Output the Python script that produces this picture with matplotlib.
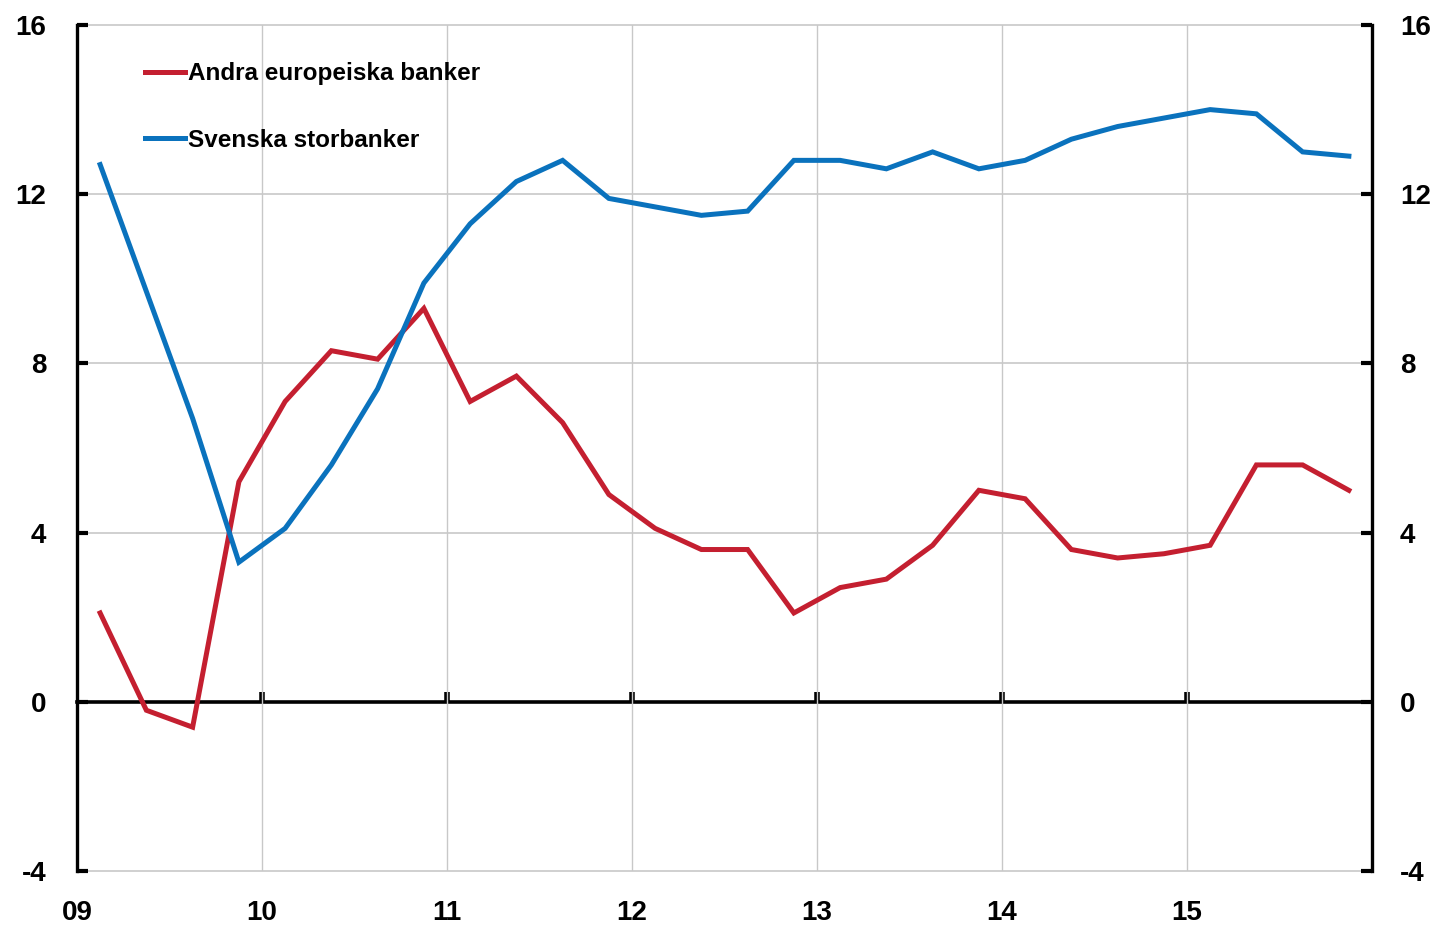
import numpy as np
import matplotlib
matplotlib.use("Agg")
import matplotlib.pyplot as plt

plt.rcParams['font.family'] = ['Liberation Sans', 'DejaVu Sans']
plt.rcParams['font.weight'] = 'bold'
plt.rcParams['axes.unicode_minus'] = False

# quarterly data 2009Q1 - 2015Q4, plotted at quarter midpoints
quarters = 2009 + 0.125 + 0.25 * np.arange(28)
andra = [2.1, -0.2, -0.6, 5.2, 7.1, 8.3, 8.1, 9.3, 7.1, 7.7, 6.6, 4.9, 4.1, 3.6,
         3.6, 2.1, 2.7, 2.9, 3.7, 5.0, 4.8, 3.6, 3.4, 3.5, 3.7, 5.6, 5.6, 5.0]
svenska = [12.7, 9.7, 6.7, 3.3, 4.1, 5.6, 7.4, 9.9, 11.3, 12.3, 12.8, 11.9, 11.7, 11.5,
           11.6, 12.8, 12.8, 12.6, 13.0, 12.6, 12.8, 13.3, 13.6, 13.8, 14.0, 13.9, 13.0, 12.9]
year_ticks = [2009, 2010, 2011, 2012, 2013, 2014, 2015]
year_labels = ["09", "10", "11", "12", "13", "14", "15"]
y_ticks = [-4, 0, 4, 8, 12, 16]

red = "#C41F30"
blue = "#0A72BD"

fig = plt.figure(figsize=(14.36, 9.26), dpi=100)
ax = fig.add_axes([77 / 1436, 1 - 871 / 926, (1372 - 77) / 1436, (871 - 25) / 926])

ax.set_xlim(2009, 2016)
ax.set_ylim(-4, 16)

ax.plot(quarters, andra, color=red, lw=3.6, label="Andra europeiska banker", zorder=5,
        solid_joinstyle='miter')
ax.plot(quarters, svenska, color=blue, lw=3.6, label="Svenska storbanker", zorder=5,
        solid_joinstyle='miter')

# grid
for x in year_ticks[1:]:
    ax.axvline(x, color="#C8C8C8", lw=1, zorder=1)
for y in [-4, 4, 8, 12, 16]:
    ax.axhline(y, color="#C8C8C8", lw=1.2, zorder=1, clip_on=False)

# zero line with ticks
sec = ax.secondary_xaxis(0.2)
sec.set_xticks(year_ticks[1:])
sec.set_xticklabels([])
sec.spines['bottom'].set_linewidth(2.6)
sec.tick_params(axis='x', direction='in', length=7, width=4, color='black')

ax.set_xticks(year_ticks)
ax.set_xticklabels(year_labels)
ax.tick_params(axis='x', length=0, pad=21, labelsize=20)

ax.set_yticks(y_ticks)
ax.tick_params(axis='y', direction='in', length=8, width=3, pad=22, labelsize=20)

for s in ['top', 'bottom']:
    ax.spines[s].set_visible(False)
ax.spines['right'].set_visible(False)
ax.spines['left'].set_linewidth(2.4)

ax2 = ax.twinx()
ax2.set_ylim(-4, 16)
ax2.set_yticks(y_ticks)
ax2.tick_params(axis='y', direction='in', length=8, width=3, pad=20, labelsize=20)
for s in ['top', 'bottom', 'left']:
    ax2.spines[s].set_visible(False)
ax2.spines['right'].set_linewidth(2.4)

leg = ax.legend(loc='upper left', bbox_to_anchor=(0.0525, 0.956), frameon=False,
                borderpad=0, borderaxespad=0, handlelength=1.65, handletextpad=0.1,
                labelspacing=1.8, prop={'size': 17.5, 'weight': 'bold'})

fig.savefig("out.png", dpi=100)
